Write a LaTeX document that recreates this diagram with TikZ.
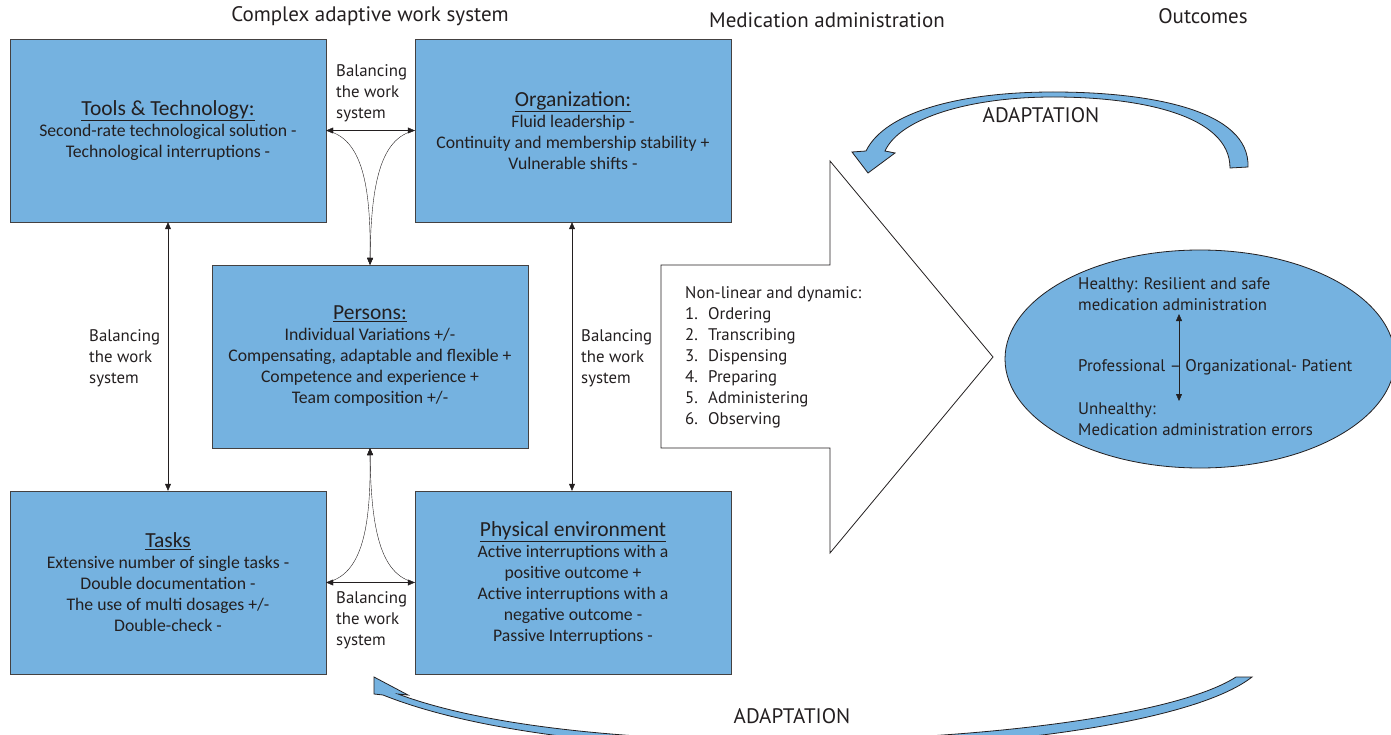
\documentclass[tikz,border=0pt]{standalone}
\usepackage{fontspec}
\setmainfont{PT Sans}
\newfontfamily\boxfont{Carlito}
\usetikzlibrary{shapes.geometric,arrows.meta}

\definecolor{partblue}{RGB}{117,178,224}
\definecolor{ink}{RGB}{35,31,32}

\newcommand{\parttitle}[1]{{\fontsize{21.5}{23}\selectfont\underline{#1}}}
\newcommand{\stepno}[1]{\makebox[23pt][l]{#1}}

\tikzset{
  part/.style={draw=ink!85, fill=partblue, minimum width=316pt, minimum height=183pt,
    align=center, inner sep=0pt, text=ink, font=\boxfont\fontsize{17.7}{21}\selectfont},
  note/.style={align=left, inner sep=0pt, text=ink, font=\fontsize{16.8}{21}\selectfont},
  header/.style={inner sep=0pt, text=ink, font=\fontsize{21}{24}\selectfont},
  twoway/.style={draw=ink, thin, {Triangle[length=7pt,width=6pt]}-{Triangle[length=7pt,width=6pt]}},
  oneway/.style={draw=ink, thin, -{Triangle[length=7pt,width=6pt]}},
  adapt/.style={draw=ink, fill=partblue, line width=0.8pt, line join=miter},
}

\begin{document}
\begin{tikzpicture}[x=1pt, y=-1pt]
  \useasboundingbox (0,0) rectangle (1391,735);

  % headers
  \node[header] (hwork) at (370,16) {Complex adaptive work system};
  \node[header] (hmed) at (827,20) {Medication administration};
  \node[header] (hout) at (1203,16) {Outcomes};

  % work system parts
  \node[part] (tools) at (168,130.5) {\parttitle{Tools \& Technology:}\\
    Second-rate technological solution -\\
    Technological interruptions -};
  \node[part] (org) at (573,130.5) {\parttitle{Organization:}\\
    Fluid leadership -\\
    Continuity and membership stability +\\
    Vulnerable shifts -};
  \node[part] (persons) at (370,356.5) {\parttitle{Persons:}\\
    Individual Variations +/-\\
    Compensating, adaptable and flexible +\\
    Competence and experience +\\
    Team composition +/-};
  \node[part] (tasks) at (168,582.5) {\parttitle{Tasks}\\
    Extensive number of single tasks -\\
    Double documentation -\\
    The use of multi dosages +/-\\
    Double-check -};
  \node[part] (phys) at (573,582.5) {\parttitle{Physical environment}\\
    Active interruptions with a\\
    positive outcome +\\
    Active interruptions with a\\
    negative outcome -\\
    Passive Interruptions -};

  % balancing links
  \draw[twoway] (tools.east) -- (org.west);
  \draw[oneway] (tools.east) .. controls (362,138) and (371,185) .. (persons.north);
  \draw[oneway] (org.west) .. controls (380,138) and (371,185) .. (persons.north);
  \draw[twoway] (tasks.east) -- (phys.west);
  \draw[oneway] (tasks.east) .. controls (362,575) and (371,528) .. (persons.south);
  \draw[oneway] (phys.west) .. controls (380,575) and (371,528) .. (persons.south);
  \draw[twoway] (tools.south) -- (tasks.north);
  \draw[twoway] (org.south -| 572,0) -- (phys.north -| 572,0);

  \node[note, anchor=west] (baltop) at (336,93) {Balancing\\the work\\system};
  \node[note, anchor=west] (balleft) at (89,358) {Balancing\\the work\\system};
  \node[note, anchor=west] (balright) at (581,358) {Balancing\\the work\\system};
  \node[note, anchor=west] (balbot) at (336,620) {Balancing\\the work\\system};

  % medication administration arrow
  \draw[draw=ink, fill=white, line width=0.8pt] (661,265) -- (830,265) -- (830,161) -- (993,357)
    -- (830,553) -- (830,448) -- (661,448) -- cycle;
  \node[note, anchor=west] (steps) at (685,357) {Non-linear and dynamic:\\
    \stepno{1.}Ordering\\
    \stepno{2.}Transcribing\\
    \stepno{3.}Dispensing\\
    \stepno{4.}Preparing\\
    \stepno{5.}Administering\\
    \stepno{6.}Observing};

  % outcomes
  \node[draw=ink, fill=partblue, ellipse, line width=0.8pt, minimum width=390pt, minimum height=218pt] (outcome) at (1200,359) {};
  \node[note, anchor=west] (healthy) at (1078,294.5) {Healthy: Resilient and safe\\medication administration};
  \node[note, anchor=west] (levels) at (1078,367) {Professional -- Organizational- Patient};
  \node[note, anchor=west] (unhealthy) at (1078,419.5) {Unhealthy:\\Medication administration errors};
  \coordinate (hi) at (1179,314);
  \coordinate (lo) at (1179,401);
  \draw[twoway] (hi) -- (lo);

  % adaptation loops
  \draw[adapt] (1230,168) .. controls (1230,115) and (1140,97) .. (1053,97)
    .. controls (970,97) and (900,118) .. (885,151) -- (895,153) -- (868,173)
    -- (852,152) -- (866,151) .. controls (885,112) and (960,92) .. (1053,92)
    .. controls (1150,92) and (1250,110) .. (1248,167) -- cycle;
  \node[header] (adtop) at (1041,115) {ADAPTATION};

  \draw[adapt] (374,677) -- (408,695) -- (398,694)
    .. controls (600,770) and (1130,745) .. (1236,677) -- (1252,677)
    .. controls (1150,757) and (600,782) .. (383,695) -- (374,694) -- cycle;
  \node[header] (adbot) at (792,716) {ADAPTATION};
\end{tikzpicture}
\end{document}
